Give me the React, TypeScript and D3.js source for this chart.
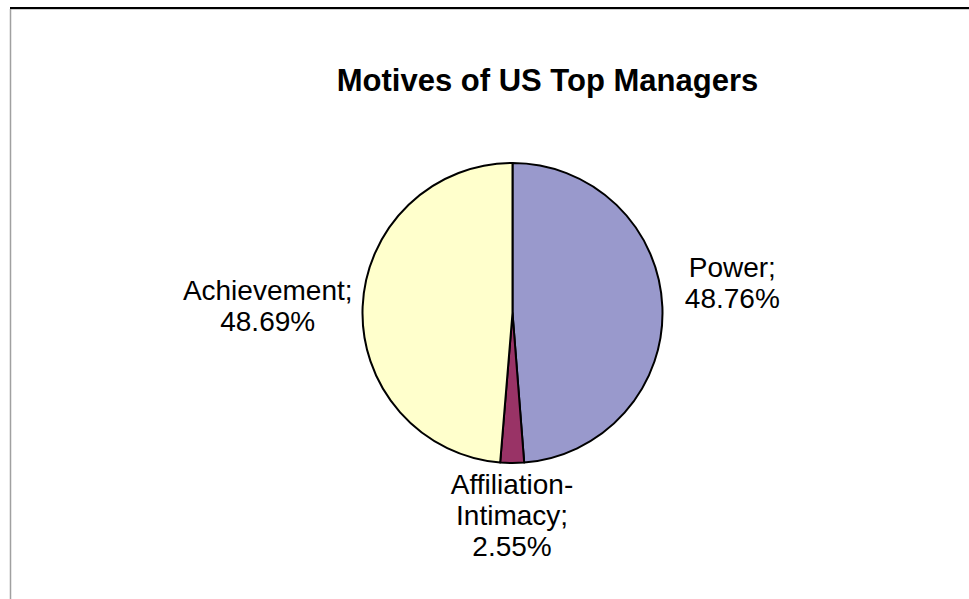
import React from "react";
import * as d3 from "d3";

const title = "Motives of US Top Managers";
const categories = ["Power", "Affiliation-Intimacy", "Achievement"];
const values = [48.76, 2.55, 48.69];
const labelLines = [["Power;", "48.76%"], ["Affiliation-", "Intimacy;", "2.55%"], ["Achievement;", "48.69%"]];
const colors = ["#9999CC", "#993366", "#FFFFCC"];

const W = 969;
const H = 599;
const cx = 512.5;
const cy = 313;
const R = 150;
// distance of label anchor from centre, and vertical nudge, per slice
const labelDist = [220, 203, 245];
const labelNudge = [-22, -1, 3];
const lineH = 31;

export default function App() {
  const pie = d3.pie<number>().sort(null).value((d) => d);
  const arcs = pie(values);
  const arcGen = d3.arc<d3.PieArcDatum<number>>().innerRadius(0).outerRadius(R);

  return (
    <svg
      width={W}
      height={H}
      style={{ position: "absolute", left: 0, top: 0, background: "#fff" }}
      fontFamily="'Liberation Sans', Arial, sans-serif"
    >
      <rect x={0} y={0} width={W} height={H} fill="#fff" />
      <line x1={10} y1={9} x2={W} y2={9} stroke="#A0A0A0" strokeWidth={1} />
      <line x1={10} y1={8} x2={W} y2={8} stroke="#000" strokeWidth={2} />
      <line x1={10.5} y1={9} x2={10.5} y2={H} stroke="#A0A0A0" strokeWidth={1.5} />
      <text x={547.5} y={91} textAnchor="middle" fontWeight="bold" fontSize={31} fill="#000">
        {title}
      </text>
      <g transform={`translate(${cx},${cy})`}>
        {arcs.map((a, i) => (
          <path key={categories[i]} d={arcGen(a) || ""} fill={colors[i]} stroke="#000" strokeWidth={2} strokeLinejoin="round" />
        ))}
      </g>
      {arcs.map((a, i) => {
        const mid = (a.startAngle + a.endAngle) / 2;
        const d = labelDist[i];
        const x = cx + d * Math.sin(mid);
        const y = cy - d * Math.cos(mid) + labelNudge[i];
        const lines = labelLines[i];
        const n = lines.length;
        const firstBaseline = y - ((n - 1) * lineH) / 2 + 10;
        return (
          <text key={categories[i]} textAnchor="middle" fontSize={28} fill="#000">
            {lines.map((l, j) => (
              <tspan key={j} x={x} y={firstBaseline + j * lineH}>
                {l}
              </tspan>
            ))}
          </text>
        );
      })}
    </svg>
  );
}
